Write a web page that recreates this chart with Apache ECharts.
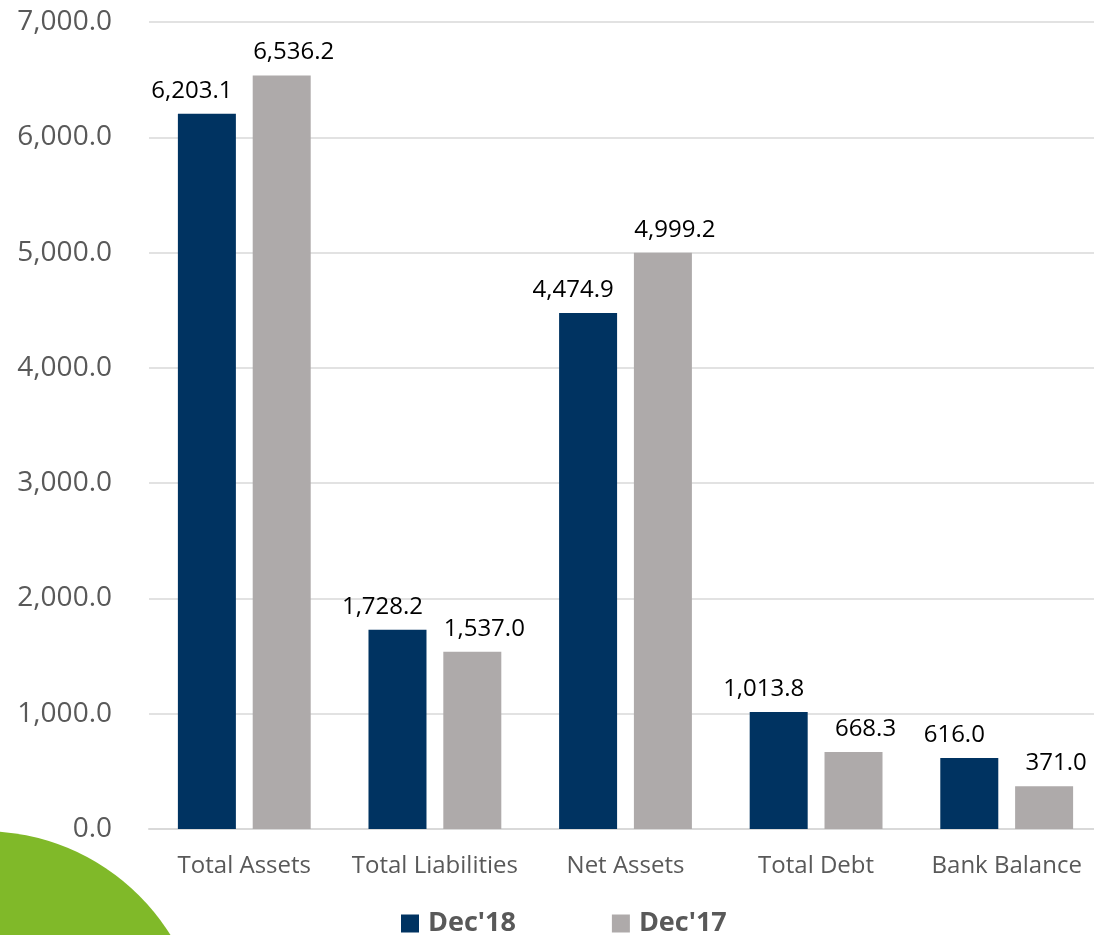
<!DOCTYPE html>
<html>
<head>
<meta charset="utf-8">
<script src="https://cdn.jsdelivr.net/npm/echarts@6/dist/echarts.min.js"></script>
<style>
  html, body { margin: 0; padding: 0; background: #fff; }
  #chart { width: 1094px; height: 935px; }
</style>
</head>
<body>
<div id="chart"></div>
<script>
const categories = ['Total Assets', 'Total Liabilities', 'Net Assets', 'Total Debt', 'Bank Balance'];
const dec18 = [6203.1, 1728.2, 4474.9, 1013.8, 616.0];
const dec17 = [6536.2, 1537.0, 4999.2, 668.3, 371.0];
const seriesNames = ["Dec'18", "Dec'17"];

const fontFamily = '"Open Sans", "Liberation Sans", sans-serif';
const fmt = v => Number(v).toLocaleString('en-US', { minimumFractionDigits: 1, maximumFractionDigits: 1 });

const chart = echarts.init(document.getElementById('chart'));

chart.setOption({
  backgroundColor: '#fff',
  animation: false,
  graphic: [
    {
      // green decoration in the bottom-left corner
      type: 'circle',
      shape: { cx: -17, cy: 1052, r: 221 },
      style: { fill: '#80b929' },
      z: -10
    }
  ],
  grid: { left: 149, top: 22, width: 953, height: 807, containLabel: false, outerBoundsMode: 'none' },
  legend: {
    top: 905,
    left: 396,
    itemWidth: 18,
    itemHeight: 18,
    itemGap: 96,
    icon: 'rect',
    textStyle: { fontFamily, fontSize: 27, fontWeight: 'bold', color: '#595959', padding: [0, 0, 0, 4] },
    data: seriesNames
  },
  xAxis: {
    type: 'category',
    data: categories,
    axisTick: { show: false },
    axisLine: { lineStyle: { color: '#d9d9d9', width: 2 } },
    axisLabel: { fontFamily, fontSize: 24, color: '#595959', margin: 25, interval: 0 }
  },
  yAxis: {
    type: 'value',
    min: 0,
    max: 7000,
    interval: 1000,
    axisLine: { show: false },
    axisTick: { show: false },
    splitLine: { lineStyle: { color: '#d9d9d9', width: 1.5 } },
    axisLabel: { fontFamily, fontSize: 28, color: '#595959', margin: 37, formatter: fmt }
  },
  series: [
    {
      name: seriesNames[0],
      type: 'bar',
      data: dec18,
      barWidth: 58,
      barGap: '29%',
      itemStyle: { color: '#003361' },
      label: {
        show: true, position: 'top', distance: 11, offset: [-15, 0],
        fontFamily, fontSize: 24, color: '#000', formatter: p => fmt(p.value)
      }
    },
    {
      name: seriesNames[1],
      type: 'bar',
      data: dec17,
      barWidth: 58,
      itemStyle: { color: '#aeaaaa' },
      label: {
        show: true, position: 'top', distance: 11, offset: [12, 0],
        fontFamily, fontSize: 24, color: '#000', formatter: p => fmt(p.value)
      }
    }
  ]
});
</script>
</body>
</html>
